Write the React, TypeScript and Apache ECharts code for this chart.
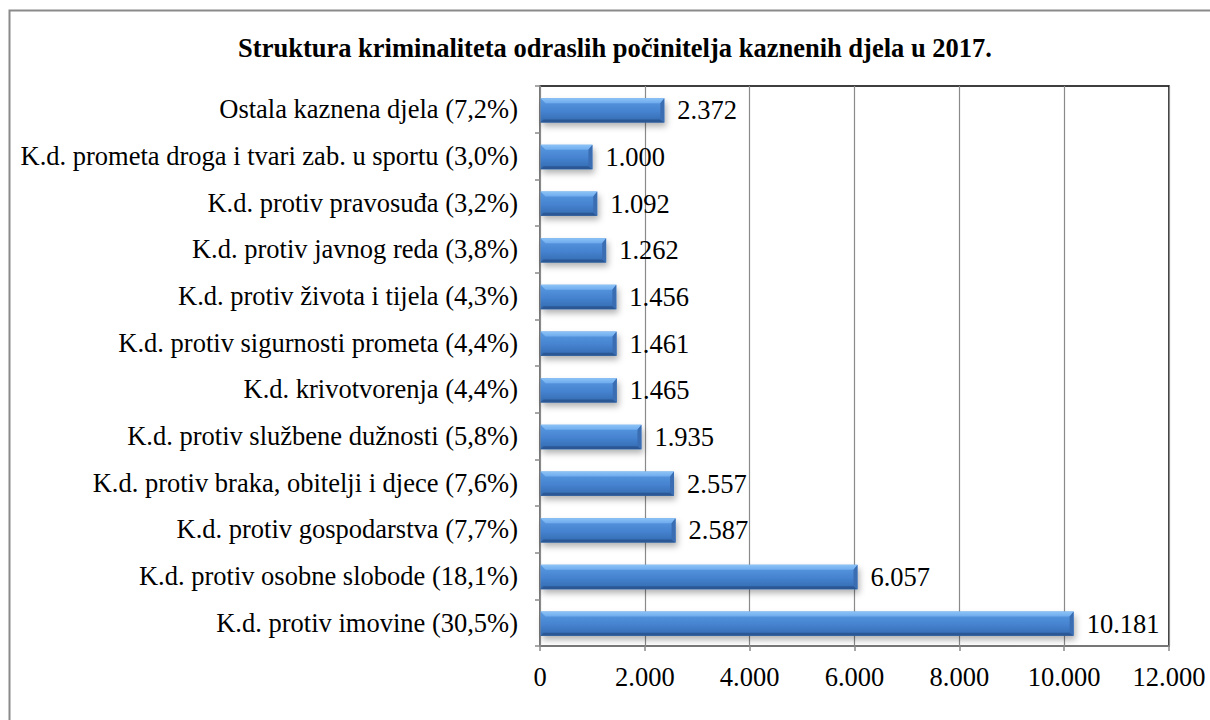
import React, { useEffect, useRef } from "react";
import * as echarts from "echarts";

const categories = [
  "Ostala kaznena djela (7,2%)",
  "K.d. prometa droga i tvari zab. u sportu (3,0%)",
  "K.d. protiv pravosuđa (3,2%)",
  "K.d. protiv javnog reda (3,8%)",
  "K.d. protiv života i tijela (4,3%)",
  "K.d. protiv sigurnosti prometa (4,4%)",
  "K.d. krivotvorenja (4,4%)",
  "K.d. protiv službene dužnosti (5,8%)",
  "K.d. protiv braka, obitelji i djece (7,6%)",
  "K.d. protiv gospodarstva (7,7%)",
  "K.d. protiv osobne slobode (18,1%)",
  "K.d. protiv imovine (30,5%)",
];
const values = [2372, 1000, 1092, 1262, 1456, 1461, 1465, 1935, 2557, 2587, 6057, 10181];
const axisMax = 12000;
const axisStep = 2000;
const title = "Struktura kriminaliteta odraslih počinitelja kaznenih djela u 2017.";

const fmt = (v: number) => String(Math.round(v)).replace(/\B(?=(\d{3})+(?!\d))/g, ".");
const FONT = "Liberation Serif";
const FS = 26.5;

export default function App() {
  const ref = useRef<HTMLDivElement>(null);
  useEffect(() => {
    if (!ref.current) return;
    const chart = echarts.init(ref.current, undefined, { renderer: "svg" });
    const renderItem = (params: any, api: any) => {
      const idx = api.value(0);
      const val = api.value(1);
      const p0 = api.coord([0, idx]);
      const p1 = api.coord([val, idx]);
      const h = api.size([0, 1])[1] * 0.52;
      const x0 = p0[0] + 0.5;
      const x1 = p1[0];
      const y0 = p0[1] - h / 2 + 1;
      const y1 = y0 + h;
      const bt = 5;
      const bb = 3;
      const br = 4;
      return {
        type: "group",
        children: [
          {
            type: "rect",
            shape: { x: x0, y: y0, width: x1 - x0, height: h },
            style: {
              fill: new echarts.graphic.LinearGradient(0, 0, 0, 1, [
                { offset: 0, color: "#5b9ae2" },
                { offset: 0.55, color: "#4582cf" },
                { offset: 1, color: "#336aaf" },
              ]),
              shadowColor: "rgba(0,0,0,0.3)",
              shadowBlur: 6,
              shadowOffsetX: 2,
              shadowOffsetY: 4,
            },
          },
          {
            type: "polygon",
            shape: { points: [[x0, y0], [x1, y0], [x1 - br, y0 + bt], [x0 + bt, y0 + bt]] },
            style: {
              fill: new echarts.graphic.LinearGradient(0, 0, 0, 1, [
                { offset: 0, color: "#8cc3f6" },
                { offset: 1, color: "#6eabee" },
              ]),
            },
          },
          {
            type: "polygon",
            shape: { points: [[x0, y1], [x1, y1], [x1 - br, y1 - bb], [x0 + bb, y1 - bb]] },
            style: { fill: "#2b5895" },
          },
          {
            type: "polygon",
            shape: { points: [[x1, y0], [x1, y1], [x1 - br, y1 - bb], [x1 - br, y0 + bt]] },
            style: { fill: "#3b6db2" },
          },
          {
            type: "text",
            x: x1 + 13,
            y: (y0 + y1) / 2,
            style: {
              text: fmt(val),
              fontFamily: FONT,
              fontSize: FS,
              fill: "#000",
              align: "left",
              verticalAlign: "middle",
            },
          },
        ],
      };
    };
    chart.setOption({
      animation: false,
      backgroundColor: "#ffffff",
      textStyle: { fontFamily: FONT },
      graphic: [
        {
          type: "rect",
          shape: { x: 9.5, y: 10.5, width: 1300, height: 800 },
          style: { fill: "none", stroke: "#8a8a8a", lineWidth: 2 },
          silent: true,
          z: 0,
        },
        {
          type: "text",
          x: 615,
          y: 48,
          style: {
            text: title,
            fontFamily: FONT,
            fontWeight: "bold",
            fontSize: FS,
            fill: "#000",
            align: "center",
            verticalAlign: "middle",
          },
        },
      ],
      grid: { left: 540, right: 41, top: 86, bottom: 74, show: true, borderColor: "#000", borderWidth: 1.5, containLabel: false },
      xAxis: {
        type: "value",
        min: 0,
        max: axisMax,
        interval: axisStep,
        axisLine: { show: true, lineStyle: { color: "#8a8a8a", width: 1.5 } },
        axisTick: { show: true, length: 5, lineStyle: { color: "#8a8a8a", width: 1.5 } },
        splitLine: { show: true, lineStyle: { color: "#8a8a8a", width: 1.2 } },
        axisLabel: { fontFamily: FONT, fontSize: FS, color: "#000", margin: 17, formatter: (v: number) => fmt(v) },
      },
      yAxis: {
        type: "category",
        data: categories,
        inverse: true,
        axisLine: { show: true, lineStyle: { color: "#8a8a8a", width: 1.5 } },
        axisTick: { show: true, length: 5, lineStyle: { color: "#8a8a8a", width: 1.5 } },
        axisLabel: { fontFamily: FONT, fontSize: FS, color: "#000", margin: 22 },
      },
      series: [
        {
          type: "custom",
          renderItem,
          data: values.map((v, i) => [i, v]),
          encode: { x: 1, y: 0 },
          clip: false,
        },
      ],
    });
    return () => chart.dispose();
  }, []);
  return <div ref={ref} style={{ position: "fixed", left: 0, top: 0, width: 1210, height: 720 }} />;
}
